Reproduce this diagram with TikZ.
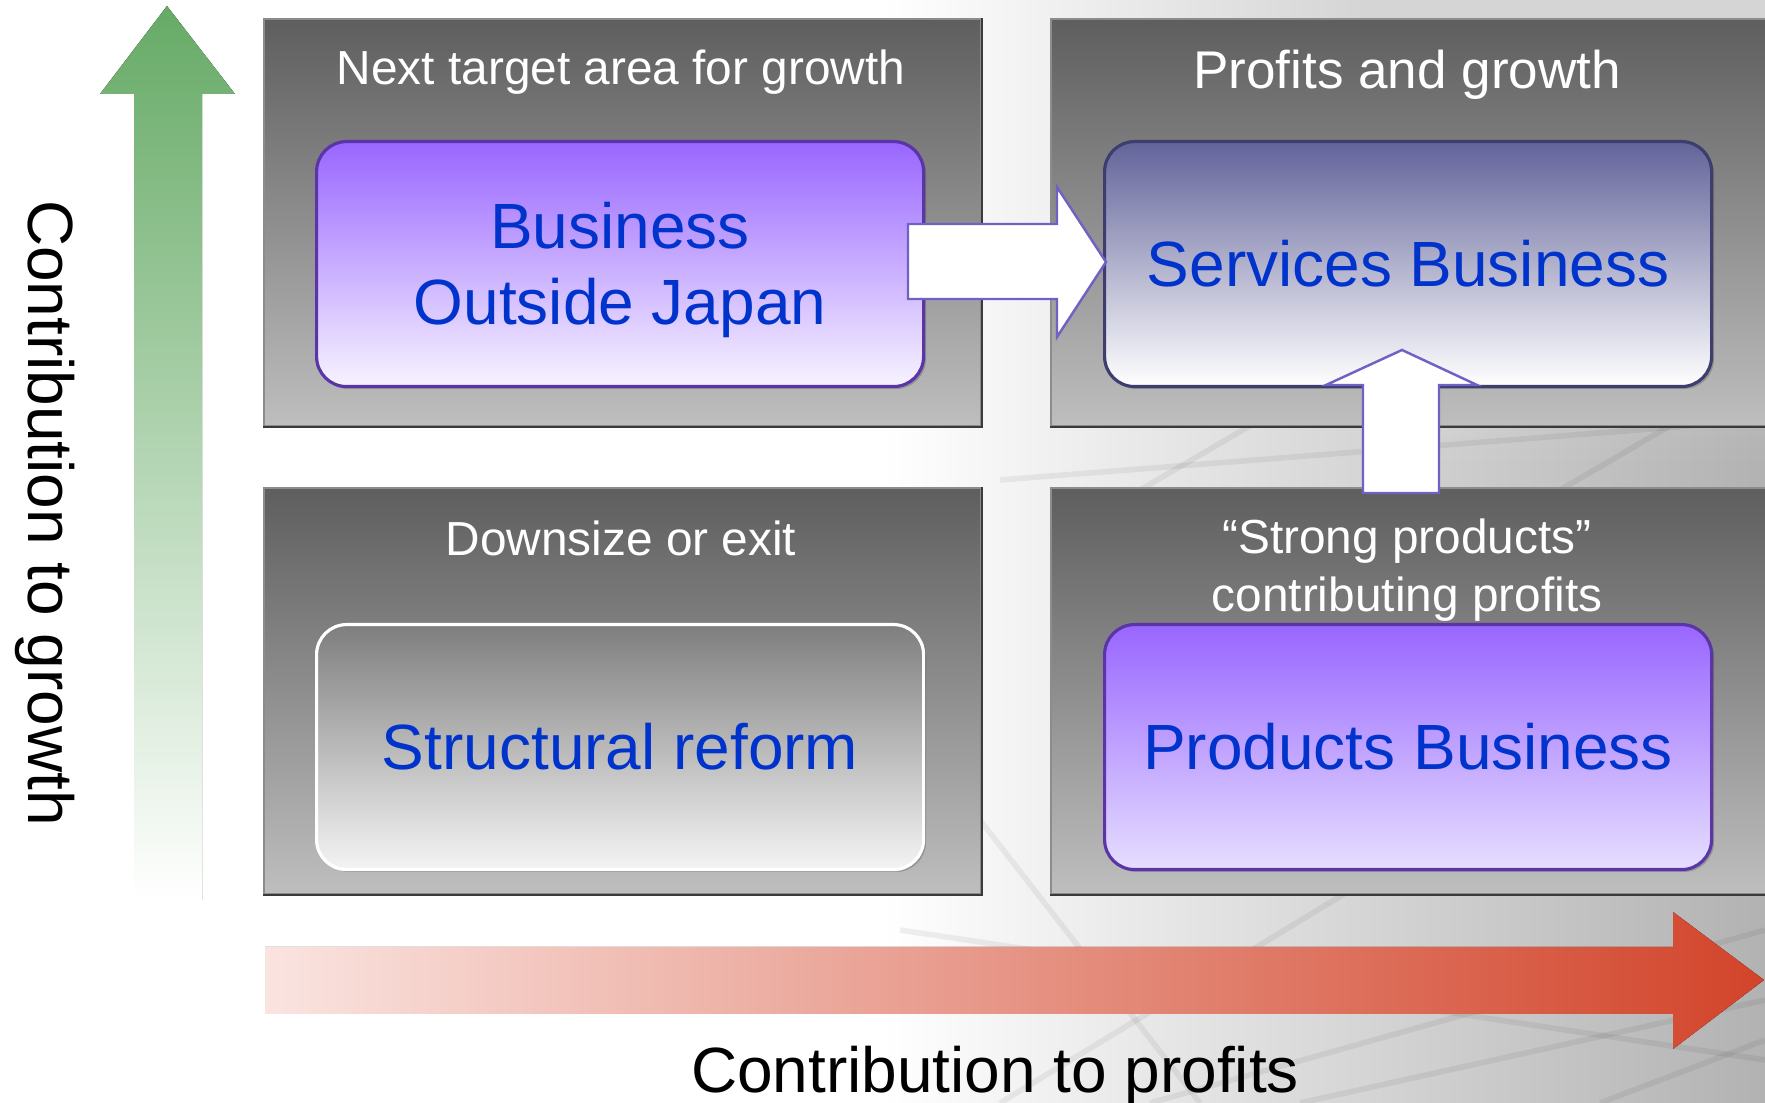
\documentclass[tikz,border=0pt]{standalone}
\usepackage{fontspec}
\setmainfont{Liberation Sans}
\definecolor{pTop}{HTML}{5E5E5E}
\definecolor{pBot}{HTML}{BEBEBE}
\definecolor{pEdge}{HTML}{8C8C8C}
\definecolor{pDark}{HTML}{3A3A3A}
\definecolor{violetTop}{HTML}{9966FF}
\definecolor{violetBot}{HTML}{F7F3FF}
\definecolor{violetBotB}{HTML}{E6DEFF}
\definecolor{violetLine}{HTML}{5A35A8}
\definecolor{slateTop}{HTML}{62639A}
\definecolor{slateLine}{HTML}{3E3E6E}
\definecolor{greyTop}{HTML}{7E7E7E}
\definecolor{greyBot}{HTML}{F4F4F4}
\definecolor{txtBlue}{HTML}{0033CC}
\definecolor{arrLine}{HTML}{6F62C4}
\definecolor{greenTop}{HTML}{66AA66}
\definecolor{redLeft}{HTML}{FAE4E0}
\definecolor{redRight}{HTML}{D2442A}
\definecolor{bgGrey}{HTML}{B2B2B2}
\begin{document}
\begin{tikzpicture}[x=0.1mm,y=-0.1mm,
  panel/.style={draw=pEdge, line width=0.5pt, top color=pTop, bottom color=pBot, inner sep=0pt, anchor=north west},
  innerbox/.style={rounded corners=3mm, line width=0.9pt, inner sep=0pt, minimum width=60.7mm, minimum height=24.5mm, anchor=north west, align=center, text=txtBlue, font=\fontsize{18.2}{21.6}\selectfont},
  violetbox/.style={innerbox, draw=violetLine, top color=violetTop, bottom color=violetBot},
  boxtext/.style={text=txtBlue, font=\fontsize{18.2}{21.6}\selectfont, align=center, inner sep=0pt},
  title/.style={text=white, font=\fontsize{13.6}{16.3}\selectfont, align=center, inner sep=0pt},
  blockarrow/.style={fill=white, draw=arrLine, line width=0.7pt, line join=miter},
  axislabel/.style={text=black, font=\fontsize{18.2}{21.6}\selectfont, inner sep=0pt},
  bgline/.style={draw=black, opacity=0.06, line width=1.6pt}
]
\useasboundingbox (0,0) rectangle (1765,1103);
% background
\fill[left color=white, right color=bgGrey, middle color=white] (0,0) rectangle (1765,1103);
\foreach \i in {0,...,39}{
  \fill[white, opacity=0.022] (0,0) rectangle (1765,460-\i*11.5);
}
\draw[bgline] (1000,1103) -- (1400,860);
\draw[bgline] (1150,1103) -- (1765,930);
\draw[bgline] (900,930) -- (1765,1060);
\draw[bgline] (1300,1103) -- (1765,1000);
\draw[bgline] (1000,480) -- (1765,420);
\draw[bgline] (1140,490) -- (1260,420);
\draw[bgline] (1560,490) -- (1680,420);
\draw[bgline] (1600,1103) -- (1765,1040);
\draw[bgline] (980,820) -- (1200,1103);
% panels
\node[panel, minimum width=71.7mm, minimum height=40.7mm] (ptl) at (263,18) {};
\node[panel, minimum width=73.5mm, minimum height=40.7mm] (ptr) at (1050,18) {};
\node[panel, minimum width=71.7mm, minimum height=40.6mm] (pbl) at (263,487) {};
\node[panel, minimum width=73.5mm, minimum height=40.6mm] (pbr) at (1050,487) {};
\foreach \p in {ptl,ptr,pbl,pbr}{
  \draw[pDark, line width=0.7pt] (\p.south west) -- (\p.south east) -- (\p.north east);
}
% titles
\node[title] (ttl) at (621,72) {Next target area for growth};
\node[title, font=\fontsize{15.1}{18}\selectfont] (ttr) at (1407,75) {Profits and growth};
\node[title] (tbl) at (621,538) {Downsize or exit};
\node[title] (tbr1) at (1407,541) {“Strong products”};
\node[title] (tbr2) at (1407,599) {contributing profits};
% inner box shadows
\foreach \xx/\yy in {315/140,1103/140,315/623,1103/623}{
  \fill[black, opacity=0.18, rounded corners=3mm] (\xx+4,\yy+4) rectangle (\xx+611,\yy+249);
}
% inner boxes
\node[violetbox] (btl) at (315,140) {};
\node[boxtext] (btltxt) at ([yshift=-0.55mm]btl.center) {Business\\Outside Japan};
\node[innerbox, draw=slateLine, top color=slateTop, bottom color=white] (btr) at (1103,140) {Services Business};
\node[innerbox, draw=white, top color=greyTop, bottom color=greyBot] (bbl) at (315,623) {Structural reform};
\node[violetbox, bottom color=violetBotB] (bbr) at (1103,623) {Products Business};
% block arrows
\draw[blockarrow] (908,224) -- (1057,224) -- (1057,187) -- (1106,262) -- (1057,337) -- (1057,299) -- (908,299) -- cycle;
\draw[blockarrow] (1363,493) -- (1363,385) -- (1326,385) -- (1402,350) -- (1477,385) -- (1439,385) -- (1439,493) -- cycle;
% axes arrows
\fill[top color=greenTop, bottom color=white] (134,900) -- (134,94) -- (100,94) -- (167,6) -- (235,94) -- (202,94) -- (202,900) -- cycle;
\fill[left color=redLeft, right color=redRight] (265,947) -- (1673,947) -- (1673,912) -- (1764,980) -- (1673,1049) -- (1673,1014) -- (265,1014) -- cycle;
% axis labels
\node[axislabel] (xlab) at (995,1076) {Contribution to profits};
\node[axislabel, rotate=-90] (ylab) at (45,513) {Contribution to growth};
\end{tikzpicture}
\end{document}
